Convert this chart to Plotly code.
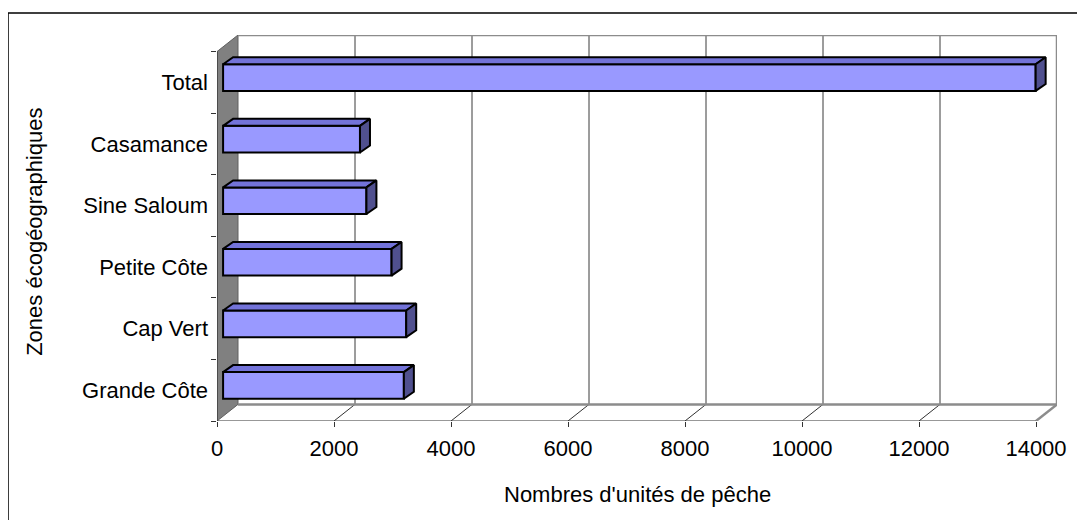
import plotly.graph_objects as go

# Data (top to bottom in the picture)
zones = ["Total", "Casamance", "Sine Saloum", "Petite Côte", "Cap Vert", "Grande Côte"]
unites = [13890, 2340, 2450, 2880, 3130, 3090]
x_ticks = [0, 2000, 4000, 6000, 8000, 10000, 12000, 14000]

# plot bottom-up
cats = zones[::-1]
vals = unites[::-1]
ypos = list(range(len(cats)))

# pseudo-3D geometry (data units)
XMAX = 14000
DX, DY = 359, 0.27          # wall depth offset
F = 0.29                    # depth of bar front face
BX, BY = 171, 0.113         # bar depth
BW = 0.433                  # bar thickness
ylo, yhi = -0.5, len(cats) - 0.5

# walls, floor and gridlines go below the bars
shapes = []
shapes.append(dict(type='path', xref='x', yref='y', layer='below',
                   path=f"M 0,{ylo} L {DX},{ylo + DY} L {DX},{yhi + DY} L 0,{yhi} Z",
                   fillcolor='#808080', line=dict(color='#606060', width=1)))
for v in x_ticks[1:-1]:
    shapes.append(dict(type='line', xref='x', yref='y', layer='below',
                       x0=v + DX, x1=v + DX, y0=ylo + DY, y1=yhi + DY,
                       line=dict(color='#3a3a3a', width=1)))
    shapes.append(dict(type='line', xref='x', yref='y', layer='below',
                       x0=v, x1=v + DX, y0=ylo, y1=ylo + DY,
                       line=dict(color='#303030', width=1)))
frame = f"M {DX},{yhi + DY} L {DX + XMAX},{yhi + DY} L {DX + XMAX},{ylo + DY} L {DX},{ylo + DY}"
shapes.append(dict(type='path', xref='x', yref='y', layer='below', path=frame,
                   line=dict(color='#8c8c8c', width=2.5)))
shapes.append(dict(type='line', xref='x', yref='y', layer='below',
                   x0=XMAX, x1=XMAX + DX, y0=ylo, y1=ylo + DY,
                   line=dict(color='#8c8c8c', width=2.5)))
# chart border
shapes.append(dict(type='rect', xref='paper', yref='paper', x0=-0.2488, y0=-0.27,
                   x1=1.04, y1=1.057, line=dict(color='black', width=1.5)))

fig = go.Figure()

# front axes
fig.add_trace(go.Scatter(x=[0, 0, XMAX], y=[yhi, ylo, ylo], mode='lines',
                         line=dict(color='#333333', width=1.2)))

# bars (front face)
x0 = F * DX
fig.add_trace(go.Bar(y=[y + F * DY for y in ypos], x=vals, base=x0, orientation='h',
                     width=BW, marker=dict(color='#9999FF', line=dict(color='black', width=2))))

# top and side faces
tx, ty, sx, sy = [], [], [], []
for y, v in zip(ypos, vals):
    yc = y + F * DY
    yt, yb = yc + BW / 2, yc - BW / 2
    x1 = x0 + v
    tx += [x0, x0 + BX, x1 + BX, x1, x0, None]
    ty += [yt, yt + BY, yt + BY, yt, yt, None]
    sx += [x1, x1 + BX, x1 + BX, x1, x1, None]
    sy += [yt, yt + BY, yb + BY, yb, yt, None]
fig.add_trace(go.Scatter(x=tx, y=ty, fill='toself', fillcolor='#7373D9', mode='lines',
                         line=dict(color='black', width=2)))
fig.add_trace(go.Scatter(x=sx, y=sy, fill='toself', fillcolor='#50508F', mode='lines',
                         line=dict(color='black', width=2)))

fig.update_traces(hoverinfo='skip')

# page body has an 8px margin, so the figure is 8px smaller than the window
fig.update_layout(
    width=1077, height=512,
    margin=dict(l=209, r=28, t=27, b=99),
    paper_bgcolor='white', plot_bgcolor='white',
    showlegend=False,
    font=dict(family='Liberation Sans, Arial, sans-serif', size=22, color='black'),
    xaxis=dict(range=[0, XMAX + DX], tickvals=x_ticks, tickformat='d', ticks='outside',
               ticklen=5, tickcolor='#333333', showgrid=False, zeroline=False,
               showline=False, ticklabelstandoff=3),
    yaxis=dict(range=[ylo, yhi + DY], tickvals=ypos, ticktext=cats, ticks='',
               minor=dict(tickvals=[y - 0.5 for y in ypos] + [yhi], ticks='outside',
                          ticklen=5, tickcolor='#333333'),
               showgrid=False, zeroline=False, showline=False, ticklabelstandoff=8),
    annotations=[
        dict(text="Nombres d'unités de pêche", xref='paper', yref='paper', x=0.5, y=-0.19,
             xanchor='center', yanchor='middle', showarrow=False),
        dict(text='Zones écogéographiques', xref='paper', yref='paper', x=-0.2167, y=0.49,
             xanchor='center', yanchor='middle', textangle=-90, showarrow=False),
    ],
    shapes=shapes,
)

fig.write_html("out.html")
